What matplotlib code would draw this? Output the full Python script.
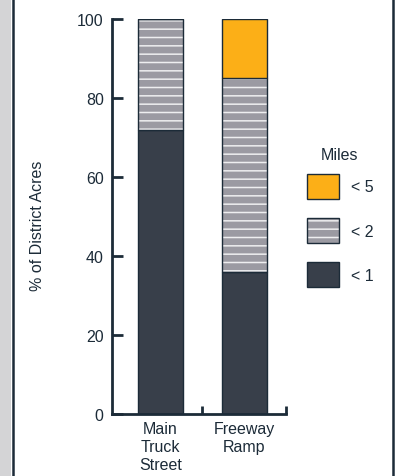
import numpy as np
import matplotlib
matplotlib.use("Agg")
import matplotlib.pyplot as plt
from matplotlib.patches import Patch, Rectangle
from matplotlib.lines import Line2D

plt.rcParams['font.family'] = ['Liberation Sans', 'DejaVu Sans']
plt.rcParams['hatch.linewidth'] = 1.1

# data
categories = ["Main\nTruck\nStreet", "Freeway\nRamp"]
under_1 = [72, 36]
under_2 = [28, 49]
under_5 = [0, 15]
legend_labels = ["< 5", "< 2", "< 1"]

dark = "#383f4a"
gray = "#9b9aa2"
orange = "#fcaf17"
ink = "#1c2b38"
fs = 11.5

fig = plt.figure(figsize=(3.96, 4.77), dpi=100)
W, H = 396, 477
ax = fig.add_axes([112 / W, 1 - 415 / H, (286 - 112) / W, (415 - 20) / H])

x = np.arange(len(categories))
w = 0.54
b1 = np.array(under_1)
b2 = b1 + np.array(under_2)

ax.bar(x, under_1, w, color=dark, edgecolor=ink, linewidth=1.0)
# hatched middle segment: white lines, then dark outline on top
ax.bar(x, under_2, w, bottom=b1, color=gray, edgecolor="#eeeef0", linewidth=0, hatch="--")
ax.bar(x, under_2, w, bottom=b1, color="none", edgecolor=ink, linewidth=1.0)
ax.bar(x, under_5, w, bottom=b2, color=orange, edgecolor=ink, linewidth=1.0)

ax.set_xlim(-0.58, 1.5)
ax.set_ylim(0, 100)
ax.set_yticks([0, 20, 40, 60, 80, 100])
ax.set_xticks(x)
ax.set_xticklabels(categories, fontsize=fs, color=ink, linespacing=1.25)
ax.set_xticks([0.5, 1.5], minor=True)
ax.tick_params(axis='x', which='major', length=0, pad=5)
ax.tick_params(axis='x', which='minor', direction='in', length=6, width=2, color=ink)
ax.tick_params(axis='y', direction='in', length=8, width=2, color=ink,
               labelsize=fs, labelcolor=ink, pad=6)

for s in ['top', 'right']:
    ax.spines[s].set_visible(False)
for s in ['left', 'bottom']:
    ax.spines[s].set_linewidth(2)
    ax.spines[s].set_color(ink)

ax.set_ylabel("% of District Acres", fontsize=fs, color=ink)
ax.yaxis.set_label_coords(-0.385, 0.48)

h5 = Patch(facecolor=orange, edgecolor=ink, linewidth=1.0)
h2 = (Patch(facecolor=gray, edgecolor="#eeeef0", linewidth=0, hatch="--"),
      Patch(facecolor="none", edgecolor=ink, linewidth=1.0))
h1 = Patch(facecolor=dark, edgecolor=ink, linewidth=1.0)
fig.text(340 / W, 1 - 155 / H, "Miles", fontsize=fs, color=ink, ha='center', va='center')
leg = fig.legend([h5, h2, h1], legend_labels,
                 loc='upper left', bbox_to_anchor=(305 / W, 1 - 173 / H),
                 frameon=False, fontsize=fs,
                 handlelength=2.0, handleheight=2.1, handletextpad=0.8,
                 labelspacing=1.15, borderpad=0.1, borderaxespad=0)
for t in leg.get_texts():
    t.set_color(ink)

# page frame: gray band at left, dark rules on both sides
fig.patches.append(Rectangle((0, 0), 11 / W, 1, transform=fig.transFigure,
                             facecolor="#d4d4d6", edgecolor="none"))
fig.lines.append(Line2D([12.5 / W, 12.5 / W], [0, 1], transform=fig.transFigure,
                        color=ink, linewidth=1.8))
fig.lines.append(Line2D([392.8 / W, 392.8 / W], [0, 1], transform=fig.transFigure,
                        color=ink, linewidth=1.8))

fig.savefig("out.png", dpi=100)
